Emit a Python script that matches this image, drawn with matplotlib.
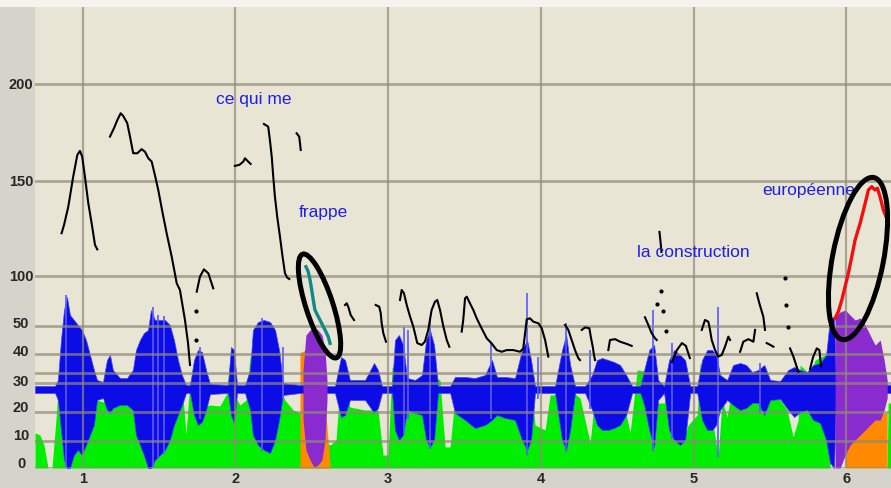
import numpy as np
import matplotlib
matplotlib.use("Agg")
import matplotlib.pyplot as plt
import matplotlib.transforms as mtransforms
from matplotlib.patches import Ellipse, Rectangle

# piecewise y axis: dB in the lower part, Hz in the upper part
scale_vals = [0, 10, 20, 30, 40, 50, 100, 150, 200, 240]
scale_pos = [0, 27, 56, 85, 114, 142, 192, 287, 384, 461]
y_ticks = [0, 10, 20, 30, 40, 50, 100, 150, 200]
y_labels = ['0', '10', '20', '30', '40', '50', '100', '150', '200']
x_ticks = [1, 2, 3, 4, 5, 6]

# intensity curve (dB)
int_t = [0.688, 0.720, 0.747, 0.773, 0.799, 0.825, 0.851, 0.878, 0.917, 0.982, 1.048, 1.094, 1.139, 1.179,
         1.212, 1.277, 1.329, 1.356, 1.408, 1.506, 1.604, 1.650, 1.677, 1.703, 1.768, 1.834, 1.899, 1.939,
         1.965, 1.991, 2.030, 2.070, 2.096, 2.161, 2.260, 2.325, 2.378, 2.423, 2.456, 2.620, 2.659, 2.685,
         2.718, 2.750, 2.849, 2.934, 2.967, 3.000, 3.026, 3.078, 3.144, 3.209, 3.262, 3.288, 3.340, 3.373,
         3.406, 3.438, 3.536, 3.635, 3.700, 3.766, 3.831, 3.870, 3.929, 3.962, 4.028, 4.061, 4.126, 4.159,
         4.192, 4.257, 4.323, 4.355, 4.408, 4.473, 4.552, 4.585, 4.631, 4.716, 4.748, 4.814, 4.846, 4.892,
         4.925, 4.965, 5.024, 5.043, 5.089, 5.161, 5.187, 5.220, 5.259, 5.338, 5.371, 5.423, 5.449, 5.515,
         5.567, 5.613, 5.652, 5.685, 5.698, 5.764, 5.796, 5.862, 5.881, 5.894, 6.268, 6.274, 6.293]
int_db = [12.8, 12.1, 8.5, 0, 0, 17.2, 36.2, 40.7, 37.9, 34.5, 29.3, 24.1, 23.4, 35.2,
          27.6, 24.1, 22.4, 40.4, 37.9, 34.5, 33.4, 29.3, 12.4, 31.0, 21.7, 22.4, 22.1, 25.9,
          37.9, 25.9, 22.4, 24.1, 39.0, 36.2, 31.0, 24.1, 20.7, 19.7, 13.8, 8.5, 10.3, 29.3,
          31.0, 21.7, 20.7, 20.7, 4.8, 4.8, 35.5, 34.5, 31.0, 25.2, 25.2, 32.8, 31.0, 7.8,
          7.8, 25.2, 25.9, 22.4, 24.1, 24.1, 20.7, 35.5, 34.5, 15.5, 13.8, 25.9, 25.9, 36.9,
          27.6, 24.8, 9.3, 25.9, 18.3, 23.1, 20.7, 12.8, 34.5, 33.8, 23.1, 23.1, 34.5, 32.8,
          9.3, 15.5, 19.0, 36.9, 29.3, 4.1, 24.1, 18.3, 31.0, 29.3, 23.1, 23.1, 30.0, 29.3,
          24.1, 20.7, 11.4, 17.2, 36.2, 32.8, 37.9, 39.7, 39.7, 0, 0, 23.1, 23.1]

# highlighted intensity (orange)
hl1_t = [2.423, 2.456, 2.489, 2.521, 2.567, 2.620]
hl1_db = [40.4, 41.4, 40.7, 39.7, 36.2, 1.1]
hl2_t = [5.993, 6.117, 6.130, 6.268]
hl2_db = [14.8, 14.8, 19.7, 19.7]

# waveform envelope (relative amplitude)
wave_t = [0.688, 0.819, 0.838, 0.858, 0.878, 0.897, 0.917, 0.943, 0.969, 0.995, 1.022, 1.048, 1.074, 1.094,
          1.133, 1.159, 1.179, 1.198, 1.244, 1.290, 1.329, 1.349, 1.375, 1.401, 1.428, 1.447, 1.473, 1.506,
          1.539, 1.571, 1.598, 1.624, 1.650, 1.677, 1.703, 1.729, 1.755, 1.781, 1.808, 1.834, 1.952, 1.971,
          1.991, 2.011, 2.063, 2.096, 2.115, 2.148, 2.187, 2.227, 2.260, 2.286, 2.312, 2.423, 2.600, 2.652,
          2.692, 2.718, 2.750, 2.849, 2.908, 2.934, 2.960, 3.026, 3.045, 3.071, 3.098, 3.124, 3.176, 3.222,
          3.249, 3.274, 3.301, 3.327, 3.406, 3.438, 3.504, 3.569, 3.635, 3.680, 3.713, 3.766, 3.831, 3.877,
          3.910, 3.936, 3.962, 4.093, 4.139, 4.166, 4.192, 4.224, 4.290, 4.336, 4.368, 4.401, 4.441, 4.480,
          4.519, 4.559, 4.598, 4.651, 4.677, 4.710, 4.742, 4.768, 4.807, 4.840, 4.873, 4.912, 4.945, 4.978,
          5.024, 5.056, 5.089, 5.122, 5.148, 5.174, 5.220, 5.259, 5.305, 5.345, 5.384, 5.423, 5.463, 5.502,
          5.567, 5.620, 5.659, 5.698, 5.744, 5.783, 5.829, 5.868, 5.894, 5.920, 5.933, 6.268, 6.274, 6.293]
wave_top = [0.03, 0.03, 0.09, 0.49, 0.79, 0.92, 0.74, 0.69, 0.64, 0.59, 0.49, 0.34, 0.19, 0.09,
            0.07, 0.29, 0.34, 0.19, 0.11, 0.11, 0.19, 0.39, 0.49, 0.56, 0.59, 0.79, 0.69, 0.69,
            0.69, 0.64, 0.49, 0.29, 0.14, 0.04, 0.04, 0.29, 0.39, 0.37, 0.19, 0.05, 0.04, 0.42,
            0.39, 0.04, 0.04, 0.19, 0.59, 0.67, 0.69, 0.67, 0.59, 0.39, 0.06, 0.04, 0.03, 0.03,
            0.32, 0.29, 0.09, 0.09, 0.26, 0.19, 0.03, 0.03, 0.49, 0.54, 0.44, 0.11, 0.09, 0.14,
            0.49, 0.59, 0.44, 0.03, 0.03, 0.12, 0.12, 0.11, 0.14, 0.29, 0.12, 0.12, 0.11, 0.39,
            0.49, 0.29, 0.03, 0.03, 0.39, 0.54, 0.24, 0.03, 0.03, 0.14, 0.29, 0.31, 0.29, 0.27,
            0.24, 0.14, 0.03, 0.03, 0.19, 0.39, 0.44, 0.09, 0.03, 0.29, 0.39, 0.34, 0.29, 0.03,
            0.03, 0.29, 0.39, 0.39, 0.34, 0.14, 0.09, 0.24, 0.26, 0.24, 0.17, 0.19, 0.24, 0.09,
            0.08, 0.19, 0.22, 0.19, 0.17, 0.24, 0.26, 0.34, 0.71, 0.72, 0.04, 0.04, 0.04, 0.04]
wave_bot = [-0.04, -0.04, -0.11, -0.41, -0.71, -0.79, -0.79, -0.66, -0.61, -0.66, -0.56, -0.46, -0.36, -0.11,
            -0.09, -0.21, -0.24, -0.19, -0.16, -0.16, -0.21, -0.46, -0.56, -0.66, -0.79, -0.79, -0.71, -0.66,
            -0.61, -0.51, -0.36, -0.26, -0.16, -0.04, -0.04, -0.26, -0.36, -0.33, -0.21, -0.05, -0.04, -0.26,
            -0.34, -0.04, -0.04, -0.21, -0.46, -0.56, -0.61, -0.64, -0.51, -0.31, -0.06, -0.04, -0.04, -0.04,
            -0.28, -0.26, -0.11, -0.11, -0.24, -0.19, -0.04, -0.04, -0.41, -0.51, -0.46, -0.21, -0.24, -0.26,
            -0.51, -0.58, -0.51, -0.04, -0.04, -0.24, -0.31, -0.39, -0.36, -0.31, -0.26, -0.29, -0.31, -0.51,
            -0.61, -0.51, -0.04, -0.04, -0.51, -0.61, -0.41, -0.04, -0.04, -0.21, -0.36, -0.41, -0.41, -0.39,
            -0.36, -0.26, -0.04, -0.04, -0.16, -0.41, -0.58, -0.11, -0.04, -0.41, -0.51, -0.56, -0.51, -0.04,
            -0.04, -0.31, -0.41, -0.41, -0.36, -0.21, -0.11, -0.16, -0.21, -0.19, -0.14, -0.14, -0.26, -0.11,
            -0.10, -0.21, -0.28, -0.23, -0.21, -0.31, -0.34, -0.51, -0.74, -0.79, -0.04, -0.04, -0.04, -0.04]

# single peaks sticking out of the waveform
spike_t = [0.891, 1.460, 1.493, 1.532, 1.768, 2.174, 2.312, 3.104, 3.131, 3.274, 3.674, 3.910, 3.982,
           4.166, 4.323, 4.736, 4.860, 5.161, 5.436]
spike_hi = [0.94, 0.82, 0.74, 0.73, 0.42, 0.71, 0.42, 0.62, 0.59, 0.71, 0.46, 0.96, 0.32,
            0.66, 0.39, 0.79, 0.46, 0.82, 0.26]
spike_lo = [-0.79, -0.79, -0.70, -0.65, -0.30, -0.62, -0.10, -0.45, -0.30, -0.60, -0.30, -0.66, -0.10,
            -0.63, -0.20, -0.62, -0.50, -0.68, -0.25]

# highlighted waveform (purple)
pw1_t = [2.443, 2.462, 2.489, 2.515, 2.541, 2.567, 2.587, 2.600]
pw1_top = [0.19, 0.54, 0.59, 0.62, 0.59, 0.54, 0.39, 0.09]
pw1_bot = [-0.31, -0.61, -0.71, -0.78, -0.76, -0.71, -0.51, -0.11]
pw2_t = [5.927, 5.960, 5.993, 6.025, 6.058, 6.091, 6.124, 6.156, 6.189, 6.222, 6.248, 6.268]
pw2_top = [0.72, 0.77, 0.79, 0.74, 0.69, 0.71, 0.64, 0.54, 0.44, 0.49, 0.29, 0.09]
pw2_bot = [-0.79, -0.79, -0.66, -0.56, -0.51, -0.46, -0.41, -0.36, -0.31, -0.31, -0.21, -0.09]

# pitch contour pieces (black)
pitch_segments = [
    ([0.862, 0.878, 0.906, 0.938, 0.965, 0.982, 0.997, 1.015, 1.037, 1.059, 1.081, 1.096],
     [122.5, 126.8, 136.5, 152.2, 163.4, 165.5, 162.6, 152.2, 138.3, 127.7, 116.3, 114.0]),
    ([1.179, 1.205, 1.227, 1.249, 1.266, 1.292, 1.310, 1.331, 1.358, 1.386, 1.408, 1.430, 1.452, 1.473,
      1.495, 1.524, 1.550, 1.583, 1.616, 1.637, 1.670, 1.690, 1.703],
     [172.9, 177.2, 181.4, 184.9, 183.5, 179.8, 172.9, 164.3, 164.3, 166.4, 165.1, 161.7, 160.0, 153.1,
      145.3, 133.0, 122.5, 110.2, 92.7, 86.0, 56.0, 43.9, 36.2]),
    ([1.747, 1.768, 1.794, 1.823, 1.855], [84.3, 99.3, 103.5, 101.4, 87.7]),
    ([1.997, 2.026, 2.052, 2.063, 2.084, 2.100], [157.8, 158.3, 160.0, 161.7, 160.0, 158.8]),
    ([2.187, 2.215, 2.226, 2.238, 2.248, 2.259, 2.274, 2.292, 2.309, 2.325, 2.340, 2.353],
     [179.4, 178.0, 171.2, 162.6, 152.3, 141.7, 131.2, 120.7, 110.2, 101.4, 98.3, 97.0]),
    ([2.401, 2.418, 2.423, 2.428], [174.6, 172.9, 169.5, 166.0]),
    ([2.718, 2.729, 2.739, 2.755, 2.777], [71.0, 72.7, 69.3, 61.0, 56.0]),
    ([2.919, 2.942, 2.952, 2.958, 2.969, 2.986], [71.0, 69.3, 62.7, 52.7, 47.4, 44.4]),
    ([3.078, 3.089, 3.104, 3.122, 3.144, 3.165, 3.191, 3.220, 3.241, 3.263, 3.285, 3.307, 3.322, 3.340,
      3.362, 3.384, 3.401],
     [76.0, 86.0, 82.7, 71.0, 59.3, 49.8, 43.9, 43.2, 44.4, 48.6, 66.0, 74.3, 76.0, 66.0, 49.8, 45.0, 42.6]),
    ([3.482, 3.492, 3.504, 3.515, 3.536, 3.558, 3.580, 3.612, 3.646, 3.678, 3.711, 3.744, 3.777, 3.820,
      3.864, 3.885, 3.908, 3.929, 3.951, 3.984, 4.006, 4.028, 4.049],
     [48.0, 56.0, 77.7, 79.3, 72.7, 66.0, 57.7, 49.2, 45.6, 43.8, 41.4, 40.8, 41.4, 41.4,
      40.8, 42.0, 56.7, 57.7, 54.3, 52.7, 49.2, 45.0, 39.1]),
    ([4.159, 4.180, 4.202, 4.224, 4.246, 4.257], [51.0, 48.6, 45.0, 41.4, 38.5, 37.9]),
    ([4.268, 4.290, 4.318, 4.327, 4.340, 4.348, 4.355], [48.6, 49.5, 49.2, 46.2, 42.6, 39.7, 37.9]),
    ([4.442, 4.453, 4.486, 4.519, 4.563, 4.595], [41.4, 45.0, 45.3, 44.4, 43.6, 42.9]),
    ([4.682, 4.704, 4.726, 4.748, 4.759], [58.7, 51.0, 47.4, 45.6, 45.0]),
    ([4.777, 4.784, 4.790], [123.2, 117.9, 112.6]),
    ([4.859, 4.891, 4.924, 4.950, 4.976], [37.2, 41.4, 43.9, 42.9, 38.6]),
    ([5.054, 5.075, 5.097, 5.108, 5.119, 5.141, 5.162, 5.185, 5.206, 5.228, 5.239],
     [48.6, 56.0, 54.3, 48.6, 45.0, 41.4, 39.1, 39.7, 42.6, 46.2, 45.0]),
    ([5.305, 5.326, 5.359, 5.392, 5.403], [40.8, 44.4, 45.3, 44.4, 48.6]),
    ([5.414, 5.431, 5.457, 5.468], [82.7, 72.7, 59.3, 48.6]),
    ([5.479, 5.501, 5.523], [43.9, 43.3, 42.6]),
    ([5.632, 5.654, 5.686], [42.0, 39.1, 33.9]),
    ([5.763, 5.783, 5.807, 5.824, 5.835], [34.8, 39.0, 42.0, 41.4, 35.8]),
]
dot_t = [1.743, 1.743, 4.764, 4.790, 4.797, 4.820, 5.596, 5.606, 5.616]
dot_f = [65, 45, 72, 85, 65, 48.2, 98, 71.5, 49.6]

# highlighted pitch pieces
teal_t = [2.462, 2.477, 2.489, 2.500, 2.510, 2.521, 2.543, 2.565, 2.587, 2.608, 2.620]
teal_f = [104.9, 102.3, 96.0, 86.0, 76.0, 66.0, 59.3, 52.7, 48.6, 46.2, 43.8]
red_t = [5.927, 5.948, 5.971, 5.992, 6.014, 6.036, 6.058, 6.091, 6.124, 6.145, 6.167, 6.188, 6.204,
         6.221, 6.243, 6.265]
red_f = [57.7, 64.3, 76.0, 89.3, 101.4, 110.2, 119.0, 127.8, 138.3, 145.3, 147.0, 145.3, 146.2,
         141.8, 134.7, 130.4]

words = ['ce qui me', 'frappe', 'la construction', 'européenne']
word_t = [1.874, 2.418, 4.630, 5.449]
word_f = [189.7, 131.0, 110.0, 142.6]

ring_t = [2.551, 6.077]
ring_f = [70.0, 109.2]

plt.rcParams['font.family'] = ['Liberation Sans', 'DejaVu Sans']

fig = plt.figure(figsize=(8.91, 4.88), dpi=100, facecolor='#d6d3cb')
fig.add_artist(Rectangle((0, 481 / 488), 1, 7 / 488, transform=fig.transFigure,
                         facecolor='#f4f3ee', edgecolor='none'))
ax = fig.add_axes([35 / 891, 20 / 488, 856 / 891, 461 / 488])
ax.set_facecolor('#e9e5d5')


def fwd(v):
    return np.interp(v, scale_vals, scale_pos)


def inv(p):
    return np.interp(p, scale_pos, scale_vals)


ax.set_yscale('function', functions=(fwd, inv))

# waveform lives on its own linear scale, centred a bit above 0 dB
w_lo, w_hi = -0.79, 3.82
wave_tr = (mtransforms.Affine2D().scale(1, 1 / (w_hi - w_lo)).translate(0, -w_lo / (w_hi - w_lo))
           + ax.get_xaxis_transform())

ax.fill_between(int_t, 0, int_db, color='#00ef00', lw=0, zorder=1)
ax.fill_between(hl1_t, 0, hl1_db, color='#ff8a00', lw=0, zorder=1.1)
ax.fill_between(hl2_t, 0, hl2_db, color='#ff8a00', lw=0, zorder=1.1)
ax.fill_between(wave_t, wave_bot, wave_top, color='#0c0ce6', lw=0.5, ec='#4444f4',
                transform=wave_tr, zorder=1.2)
ax.vlines(spike_t, spike_lo, spike_hi, colors='#5a5aff', lw=1.2, transform=wave_tr, zorder=1.25)
ax.fill_between(pw1_t, pw1_bot, pw1_top, color='#8a2bd0', lw=0, transform=wave_tr, zorder=1.3)
ax.fill_between(pw2_t, pw2_bot, pw2_top, color='#8a2bd0', lw=0, transform=wave_tr, zorder=1.3)

for seg_t, seg_f in pitch_segments:
    ax.plot(seg_t, seg_f, color='black', lw=1.5, solid_joinstyle='round', zorder=3)
ax.plot(dot_t, dot_f, 'o', color='black', ms=2, zorder=3)
ax.plot(teal_t, teal_f, color='#0f8a8a', lw=2.4, zorder=3)
ax.plot(red_t, red_f, color='#f01010', lw=2.4, zorder=3)

for w, t, f in zip(words, word_t, word_f):
    ax.text(t, f, w, color='#1e1ee8', fontsize=12.5, ha='left', va='baseline', zorder=3.5)

for t, f, w, h, a in zip(ring_t, ring_f, [1.09, 1.65], [0.27, 0.51], [-72, 79]):
    tr = fig.dpi_scale_trans + mtransforms.ScaledTranslation(t, f, ax.transData)
    ax.add_patch(Ellipse((0, 0), w, h, angle=a, transform=tr, fill=False,
                         ec='black', lw=3.6, zorder=4))

ax.set_xlim(0.688, 6.293)
ax.set_ylim(0, 240)

for s in ax.spines.values():
    s.set_visible(False)
ax.set_axisbelow(False)
ax.set_yticks(y_ticks, labels=y_labels)
ax.set_yticks([33.5], minor=True)
ax.set_xticks(x_ticks, labels=[str(v) for v in x_ticks])
ax.grid(True, axis='y', which='both', color='#8f8a76', alpha=0.7, lw=2)
ax.grid(True, axis='x', which='major', color='#8f8a76', alpha=0.7, lw=1.6)
ax.tick_params(axis='both', which='both', length=0, labelsize=10.5, labelcolor='#262626')
ax.tick_params(axis='y', pad=10)
ax.tick_params(axis='x', pad=3)

# labels of the dB part sit slightly above their lines
lift = {0: 6, 10: 6, 20: 5, 30: 3, 40: 3, 50: 3}
for v, lab in zip(y_ticks, ax.get_yticklabels()):
    lab.set_ha('center')
    lab.set_fontweight('bold')
    dy = lift.get(v, 0) / 100
    lab.set_transform(lab.get_transform() + mtransforms.ScaledTranslation(0, dy, fig.dpi_scale_trans))
for lab in ax.get_xticklabels():
    lab.set_fontweight('bold')

fig.savefig('out.png', dpi=100, facecolor=fig.get_facecolor())
